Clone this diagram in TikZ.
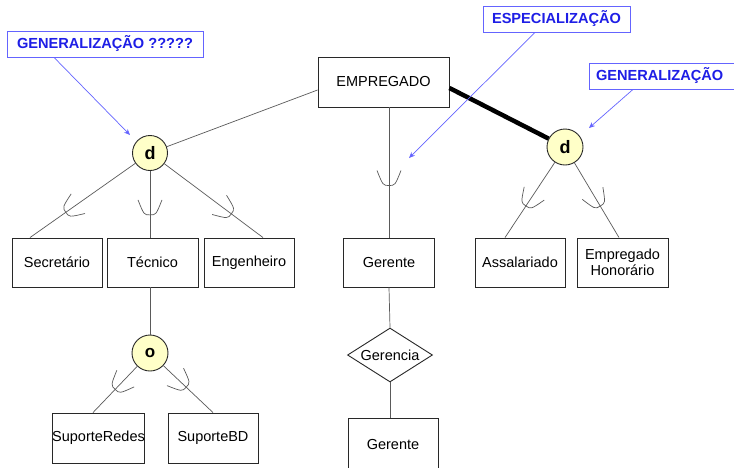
\documentclass[tikz,border=0pt]{standalone}
\usepackage{fontspec}
\setmainfont{Liberation Sans}
\usetikzlibrary{shapes.geometric,decorations.markings,arrows.meta,calc}
\definecolor{conn}{RGB}{90,90,90}
\definecolor{boxline}{RGB}{40,40,40}
\definecolor{cfill}{RGB}{255,255,200}
\definecolor{lblue}{RGB}{30,30,230}
\definecolor{lborder}{RGB}{100,100,255}
\begin{document}
\begin{tikzpicture}[x=1pt,y=-1pt,
  ent/.style={draw=boxline,line width=0.9pt,rectangle,inner sep=0pt,font=\fontsize{14.5}{16.5}\selectfont,align=center},
  rel/.style={draw=boxline,line width=0.9pt,diamond,shape aspect=1.57,inner sep=0pt,minimum width=85,minimum height=54,font=\fontsize{14.5}{16}\selectfont},
  circ/.style={draw=boxline,line width=0.9pt,circle,fill=cfill,inner sep=0pt,minimum size=35,font=\fontsize{18}{20}\selectfont\bfseries},
  note/.style={draw=lborder,line width=0.8pt,rectangle,inner sep=0pt,text=lblue,font=\fontsize{14.6}{16}\selectfont\bfseries},
  link/.style={draw=conn,line width=0.7pt},
  heavy/.style={draw=black,line width=4.5pt},
  noteline/.style={draw=lborder,line width=0.7pt,-{Stealth[length=6pt,width=5pt]}},
  cup/.style={postaction={decorate},decoration={markings,mark=at position #1 with {\draw[conn,line width=0.7pt] (-15,-12) .. controls (0,-6) .. (0,0) .. controls (0,6) .. (-15,12);}}}
]
\clip (0,0) rectangle (734,467);
\fill[white] (0,0) rectangle (734,467);

% entities
\node[ent,minimum width=131,minimum height=50] (emp) at (383.5,82) {EMPREGADO};
\node[ent,minimum width=90,minimum height=49] (sec) at (57,262.5) {Secretário};
\node[ent,minimum width=91,minimum height=49] (tec) at (152.5,262.5) {Técnico};
\node[ent,minimum width=90,minimum height=49] (eng) at (249,262.5) {Engenheiro};
\node[ent,minimum width=91,minimum height=49] (ger) at (389,262.5) {Gerente};
\node[ent,minimum width=90,minimum height=49] (ass) at (520,262.5) {Assalariado};
\node[ent,minimum width=91,minimum height=49] (hon) at (622.5,262.5) {Empregado\\Honorário};
\node[ent,minimum width=91,minimum height=50] (sred) at (98.5,438) {SuporteRedes};
\node[ent,minimum width=90,minimum height=50] (sbd) at (213,438) {SuporteBD};
\node[rel] (gcia) at (390,355) {Gerencia};
\node[ent,minimum width=90,minimum height=52] (ger2) at (393,444) {Gerente};

% circles
\node[circ] (d1) at (150,153) {d};
\node[circ,minimum size=36] (d2) at (565,147) {d};
\node[circ,minimum size=36,font=\fontsize{17}{19}\selectfont\bfseries] (o1) at (150,353) {o};

% connectors
\draw[link] ($(emp.west)+(0,8)$) -- (d1);
\draw[heavy] ($(emp.east)+(0,6)$) -- (d2);
\draw[link,cup=0.66] (d1) -- ($(sec.north)+(-27,0)$);
\draw[link,cup=0.66] (d1) -- (d1 |- tec.north);
\draw[link,cup=0.68] (d1) -- ($(eng.north)+(14,0)$);
\draw[link,cup=0.6] (emp.south -| ger.north) -- (ger.north);
\draw[link,cup=0.58] (d2) -- ($(ass.north)+(-15,0)$);
\draw[link,cup=0.58] (d2) -- ($(hon.north)+(-3.5,0)$);
\draw[link] (tec.south -| d1) -- (o1);
\draw[link,cup=0.5] (o1) -- ($(sred.north)+(-5.5,0)$);
\draw[link,cup=0.46] (o1) -- ($(sbd.north)+(0,0)$);
\draw[link] (ger.south) -- (gcia.north);
\draw[link] (gcia.south) -- (gcia.south |- ger2.north);

% notes
\node[note,minimum width=196,minimum height=26] (n1) at (105,44) {GENERALIZAÇÃO ?????};
\node[note,minimum width=147,minimum height=26] (n2) at (556.5,19) {ESPECIALIZAÇÃO};
\node[note,minimum width=150,minimum height=26,text width=146,align=left] (n3) at (664,76) {\hspace{5pt}GENERALIZAÇÃO};
\coordinate (t1) at (130,135);
\coordinate (t2) at (409,158);
\coordinate (t3) at (589,128);
\draw[noteline] ($(n1.south)+(-51,0)$) -- (t1);
\draw[noteline] ($(n2.south)+(-21.5,0)$) -- (t2);
\draw[noteline] ($(n3.south)+(-31,0)$) -- (t3);
\end{tikzpicture}
\end{document}
